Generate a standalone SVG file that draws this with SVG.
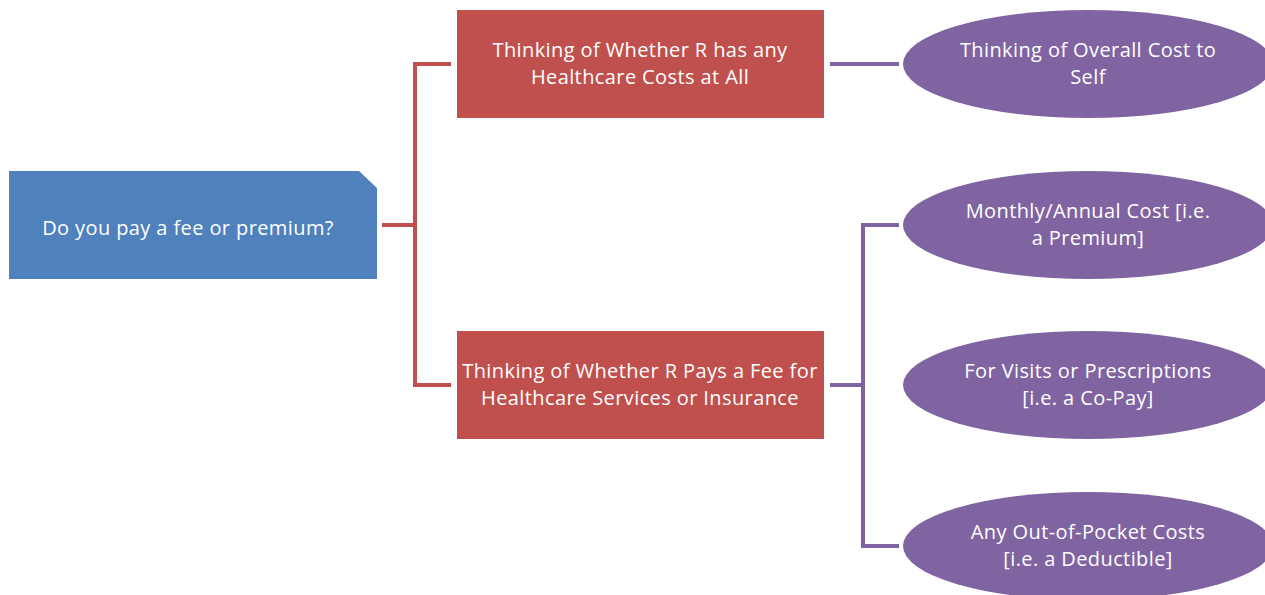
<svg xmlns="http://www.w3.org/2000/svg" width="1265" height="595" viewBox="0 0 1265 595">
  <style>
    .lbl { font-family: "Open Sans", "Noto Sans", sans-serif; font-size: 20px; letter-spacing: 0.4px; fill: #ffffff; text-anchor: middle; }
    .root { fill: #4F81BD; }
    .mid { fill: #C0504D; }
    .leaf { fill: #8064A2; }
    .red { fill: none; stroke: #C0504D; stroke-width: 4; }
    .purple { fill: none; stroke: #8064A2; stroke-width: 4; }
  </style>
  <rect width="1265" height="595" fill="#ffffff"/>

  <g id="connectors">
    <path class="red" d="M382,225 H415 M451,64 H415 V385 H451"/>
    <path class="purple" d="M830,64 H899"/>
    <path class="purple" d="M830,385 H863 M899,225 H863 V546 H899"/>
  </g>

  <g id="root-question">
    <polygon class="root" points="9,171 359,171 377,188 377,279 9,279"/>
    <text class="lbl" x="188" y="235">Do you pay a fee or premium?</text>
  </g>

  <g id="any-costs">
    <rect class="mid" x="457" y="10" width="367" height="108"/>
    <text class="lbl" x="640" y="57">Thinking of Whether R has any</text>
    <text class="lbl" x="640" y="84">Healthcare Costs at All</text>
  </g>

  <g id="pays-fee">
    <rect class="mid" x="457" y="331" width="367" height="108"/>
    <text class="lbl" x="640" y="378">Thinking of Whether R Pays a Fee for</text>
    <text class="lbl" x="640" y="405">Healthcare Services or Insurance</text>
  </g>

  <g id="overall-cost">
    <ellipse class="leaf" cx="1088" cy="64" rx="185" ry="54"/>
    <text class="lbl" x="1088" y="57">Thinking of Overall Cost to</text>
    <text class="lbl" x="1088" y="84">Self</text>
  </g>

  <g id="premium">
    <ellipse class="leaf" cx="1088" cy="225" rx="185" ry="54"/>
    <text class="lbl" x="1088" y="218">Monthly/Annual Cost [i.e.</text>
    <text class="lbl" x="1088" y="245">a Premium]</text>
  </g>

  <g id="co-pay">
    <ellipse class="leaf" cx="1088" cy="385" rx="185" ry="54"/>
    <text class="lbl" x="1088" y="378">For Visits or Prescriptions</text>
    <text class="lbl" x="1088" y="405">[i.e. a Co-Pay]</text>
  </g>

  <g id="deductible">
    <ellipse class="leaf" cx="1088" cy="546" rx="185" ry="54"/>
    <text class="lbl" x="1088" y="539">Any Out-of-Pocket Costs</text>
    <text class="lbl" x="1088" y="566">[i.e. a Deductible]</text>
  </g>
</svg>
